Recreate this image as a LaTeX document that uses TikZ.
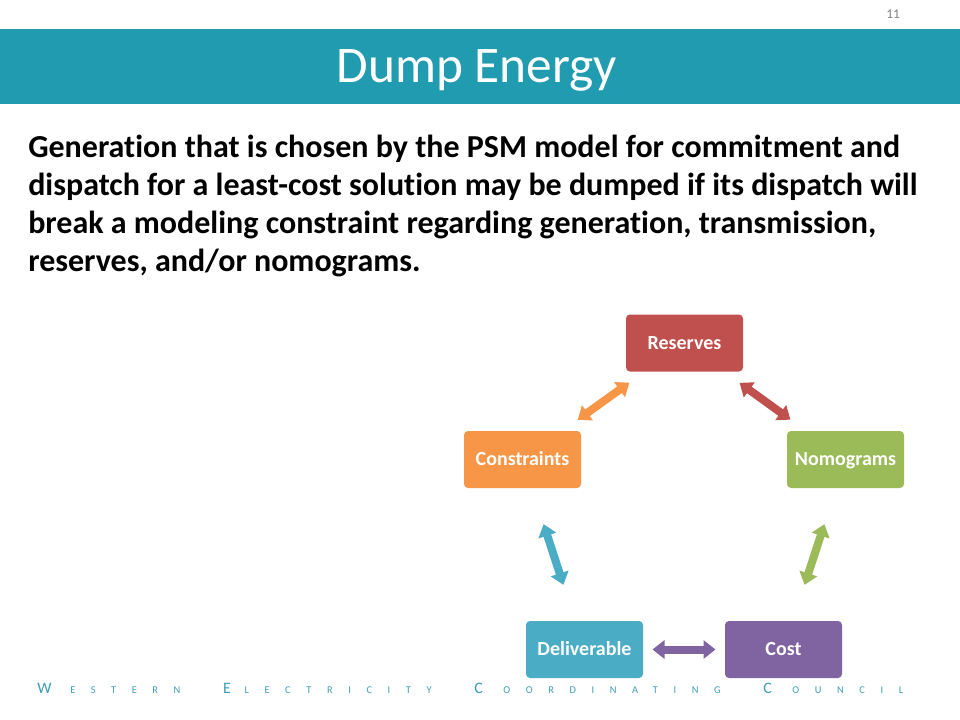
\documentclass[tikz,border=0pt]{standalone}
\usepackage{fontspec}
\setmainfont{Carlito}[Ligatures=NoCommon]
\newfontfamily\wccbig{Carlito}
\newfontfamily\wccsml[LetterSpace=150]{Carlito}
\usepackage{xcolor}
\usepackage{tikz}
\usetikzlibrary{arrows.meta}
\definecolor{barc}{RGB}{33,155,175}
\definecolor{wecc}{RGB}{62,158,180}
\definecolor{cres}{HTML}{C0504D}
\definecolor{ccon}{HTML}{F79646}
\definecolor{cnom}{HTML}{9BBB59}
\definecolor{cdel}{HTML}{4BACC6}
\definecolor{ccost}{HTML}{8064A2}
\tikzstyle{box}=[rectangle,rounded corners=3pt,minimum width=87.75pt,minimum height=42.75pt,inner sep=0pt,text height=9.7pt,text depth=0pt,text=white,font=\fontsize{15}{18}\selectfont\bfseries]
\tikzstyle{link}=[{Triangle[width=13.5pt,length=9pt]}-{Triangle[width=13.5pt,length=9pt]},line width=6pt,shorten <=51pt,shorten >=51pt]
\newcommand{\wcap}[2]{\makebox[#2][l]{\wccbig\fontsize{12}{12}\selectfont #1}}
\newcommand{\wsml}{\wccsml\fontsize{7.8}{8}\selectfont}
\newcommand{\wgap}{\hspace{32pt}}

\begin{document}
\begin{tikzpicture}[x=0.75pt,y=-0.75pt]
\useasboundingbox[fill=white] (0,0) rectangle (960,720);

\fill[barc] (0,29) rectangle (960,104);
\node[anchor=base,text=white,font=\fontsize{38.5}{46}\selectfont] (title) at (477,83) {Dump Energy};
\node[anchor=base,text=gray,font=\fontsize{10}{10}\selectfont] (pnum) at (893,19) {11};

\foreach \ln [count=\i] in {{Generation that is chosen by the PSM model for commitment and},
  {dispatch for a least-cost solution may be dumped if its dispatch will},
  {break a modeling constraint regarding generation, transmission,},
  {reserves, and/or nomograms.}}
  \node[anchor=base west,inner sep=0pt,font=\fontsize{24}{28}\selectfont\bfseries] (body\i) at (28,119.5+38*\i) {\ln};

\node[box,fill=cres] (reserves) at (684.5,343) {Reserves};
\node[box,fill=ccon] (constraints) at (522.5,459.5) {Constraints};
\node[box,fill=cnom] (nomograms) at (845.5,459.5) {Nomograms};
\node[box,fill=cdel] (deliverable) at (584.5,649.5) {Deliverable};
\node[box,fill=ccost] (cost) at (783.5,649.5) {Cost};

\draw[link,ccon] (constraints.center) -- (reserves.center);
\draw[link,cres] (reserves.center) -- (nomograms.center);
\draw[link,cnom] (nomograms.center) -- (cost.center);
\draw[link,ccost] (cost.center) -- (deliverable.center);
\draw[link,cdel] (deliverable.center) -- (constraints.center);

\node[anchor=base west,inner sep=0pt,text=wecc] (footer) at (37,693)
  {\wcap{W}{24.75pt}\wsml ESTERN\wgap\wcap{E}{16.2pt}\wsml LECTRICITY\wgap\wcap{C}{21.75pt}\wsml OORDINATING\wgap\wcap{C}{21.75pt}\wsml OUNCIL};

\end{tikzpicture}
\end{document}
